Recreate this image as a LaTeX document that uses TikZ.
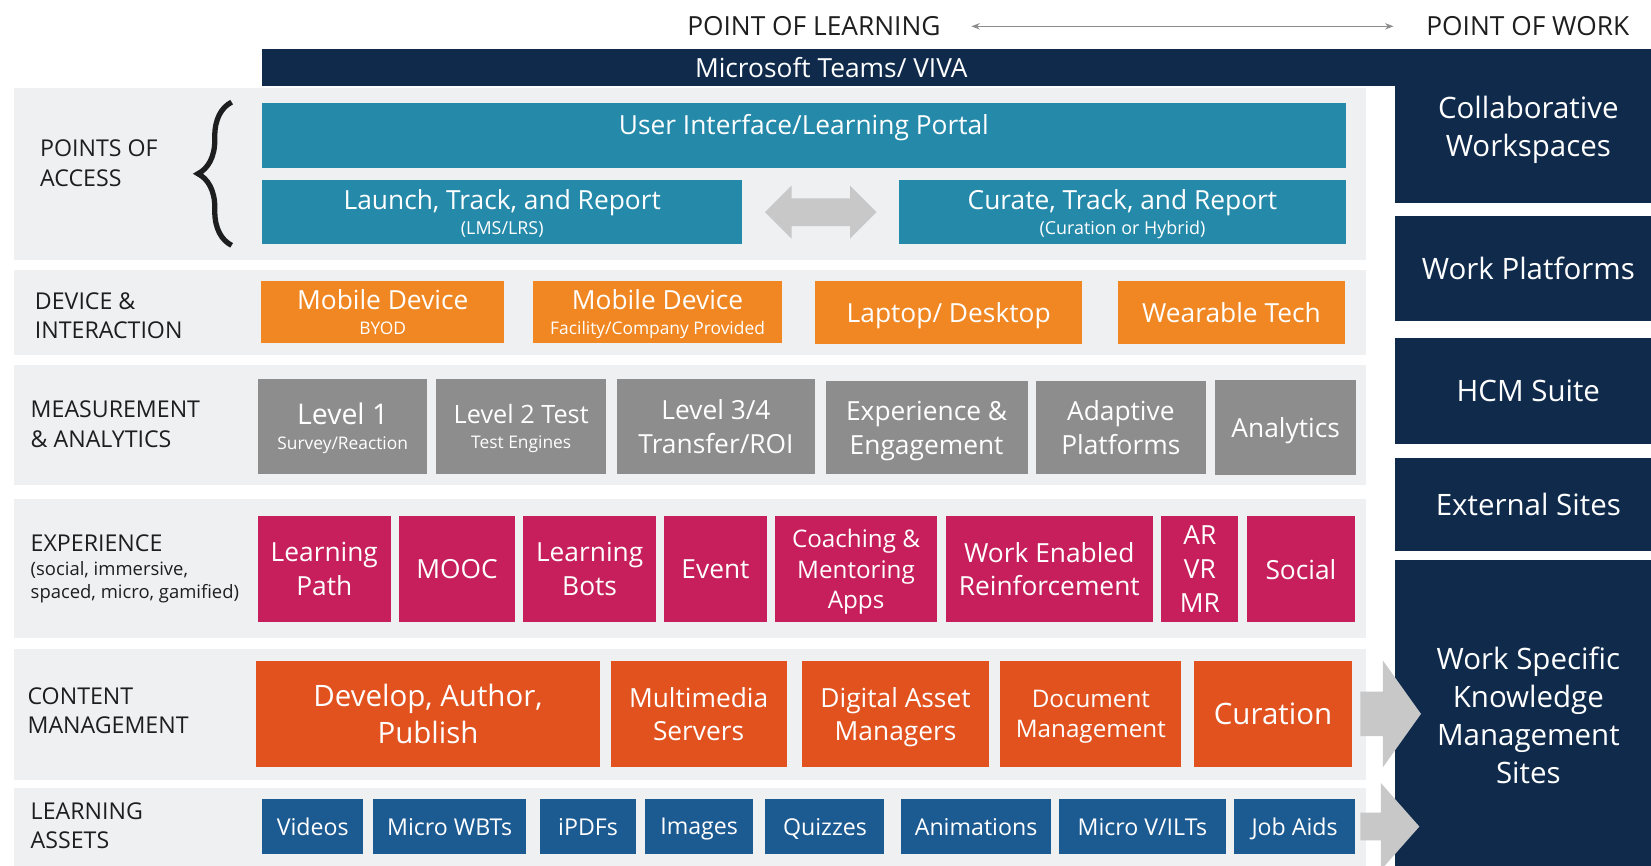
\documentclass[tikz,border=0pt]{standalone}
\usepackage{xcolor}
\usepackage{fontspec}
\setmainfont{Open Sans}
\usepackage{tikz}
\usetikzlibrary{calc}
\usetikzlibrary{shapes.arrows}
\usetikzlibrary{arrows.meta}
\usetikzlibrary{decorations.pathreplacing}

\definecolor{navy}{HTML}{0F2A4B}
\definecolor{accteal}{HTML}{2589AA}
\definecolor{devorange}{HTML}{F08722}
\definecolor{measgray}{HTML}{8D8D8D}
\definecolor{expmagenta}{HTML}{C71F5B}
\definecolor{conorange}{HTML}{E1521F}
\definecolor{assetblue}{HTML}{1C5A92}
\definecolor{panelgray}{HTML}{EEF0F2}
\definecolor{arrowgray}{HTML}{C8C8C8}
\definecolor{labeltext}{HTML}{1E1E1E}
\definecolor{linegray}{HTML}{8C8C8C}

\newcommand{\undertekst}[1]{{\fontsize{16.5}{20}\selectfont #1}}

\begin{document}
\begin{tikzpicture}[x=1pt, y=-1pt,
  omr/.style n args={4}{at={($(#1,#2)!0.5!(#3,#4)$)}, minimum width={(#3-#1)*1pt}, minimum height={(#4-#2)*1pt}},
  blk/.style={rectangle, inner sep=0pt, outer sep=0pt, align=center, text depth=0pt, text=white, font=\fontsize{25}{32}\selectfont},
  access/.style={blk, fill=accteal},
  device/.style={blk, fill=devorange},
  measure/.style={blk, fill=measgray},
  exper/.style={blk, fill=expmagenta},
  content/.style={blk, fill=conorange},
  asset/.style={blk, fill=assetblue, font=\fontsize{22}{28}\selectfont},
  work/.style={blk, fill=navy, font=\fontsize{28}{36}\selectfont},
  rowlabel/.style={anchor=west, align=left, inner sep=0pt, text=labeltext, font=\fontsize{22}{28}\selectfont},
  toptxt/.style={inner sep=0pt, text=labeltext, font=\fontsize{25}{30}\selectfont},
  panel/.style={fill=panelgray},
  blockarrow/.style={fill=arrowgray, inner sep=0pt, outer sep=0pt}]
	%Bakgrunn
	\useasboundingbox[fill=white] (0,0) rectangle (1568,822);
	\fill[panel] (13,84) rectangle (1297,247);
	\fill[panel] (13,256) rectangle (1297,337);
	\fill[panel] (13,347) rectangle (1297,461);
	\fill[panel] (13,474) rectangle (1297,606);
	\fill[panel] (13,616) rectangle (1297,741);
	\fill[panel] (13,748) rectangle (1297,822);

	%Overskrift
	\node[toptxt] (pol) at (773,25) {POINT OF LEARNING};
	\node[toptxt] (pow) at (1451,25) {POINT OF WORK};
	\draw[linegray, line width=1.5pt, {Stealth[length=8pt,width=6pt]}-{Stealth[length=8pt,width=6pt]}, shorten <=29pt, shorten >=31pt] (pol) -- (pow);

	%Arbeid
	\node[work, font=\fontsize{25}{32}\selectfont, omr={249}{47}{1330}{82}] (teams) {Microsoft Teams/ VIVA};
	\node[work, omr={1325}{47}{1578}{193}] (collab) {Collaborative\\Workspaces};
	\node[work, omr={1325}{205}{1578}{305}] (workpl) {Work Platforms};
	\node[work, omr={1325}{321}{1578}{422}] (hcm) {HCM Suite};
	\node[work, omr={1325}{435}{1578}{523}] (ext) {External Sites};
	\node[work, omr={1325}{532}{1578}{826}] (wsk) {Work Specific\\Knowledge\\Management\\Sites};

	%Radene
	\node[rowlabel] (l1) at (38,155) {POINTS OF\\ACCESS};
	\node[rowlabel] (l2) at (33,300) {DEVICE \&\\INTERACTION};
	\node[rowlabel] (l3) at (29,403) {MEASUREMENT\\\& ANALYTICS};
	\node[rowlabel, font=\fontsize{17.5}{21.5}\selectfont] (l4) at (29,540) {{\fontsize{22}{24}\selectfont EXPERIENCE}\\[2pt](social, immersive,\\spaced, micro, gamified)};
	\node[rowlabel] (l5) at (26,675) {CONTENT\\MANAGEMENT};
	\node[rowlabel] (l6) at (29,784) {LEARNING\\ASSETS};
	\draw[labeltext, line width=5pt, decorate, decoration={brace, amplitude=32pt}] (220,233) -- (220,97);

	%Tilgang
	\node[access, text height=19pt, text depth=21pt, omr={249}{98}{1278}{160}] (ui) {User Interface/Learning Portal};
	\node[access, omr={249}{171}{705}{232}] (launch) {Launch, Track, and Report\\[-8pt]{\fontsize{17}{20}\selectfont (LMS/LRS)}};
	\node[access, omr={854}{171}{1278}{232}] (curate) {Curate, Track, and Report\\[-8pt]{\fontsize{17}{20}\selectfont (Curation or Hybrid)}};
	\node[blockarrow, double arrow, minimum height=106pt, minimum width=50pt, inner sep=13pt, double arrow head extend=12pt] (swap) at ($(launch.east)!0.5!(curate.west)$) {};

	%Enheter
	\node[device, omr={248}{267}{479}{326}] (byod) {Mobile Device\\[-8pt]\undertekst{BYOD}};
	\node[device, omr={506}{267}{743}{326}] (facility) {Mobile Device\\[-8pt]\undertekst{Facility/Company Provided}};
	\node[device, omr={774}{267}{1028}{327}] (laptop) {Laptop/ Desktop};
	\node[device, omr={1062}{267}{1277}{327}] (wear) {Wearable Tech};

	%Maaling
	\node[measure, font=\fontsize{27}{34}\selectfont, omr={245}{360}{406}{450}] (lvl1) {Level 1\\[-10pt]\undertekst{Survey/Reaction}};
	\node[measure, font=\fontsize{24}{31}\selectfont, omr={414}{360}{576}{450}] (lvl2) {Level 2 Test\\[-7pt]\undertekst{Test Engines}};
	\node[measure, omr={586}{360}{774}{450}] (lvl34) {Level 3/4\\Transfer/ROI};
	\node[measure, omr={784}{362}{976}{450}] (expeng) {Experience \&\\Engagement};
	\node[measure, omr={984}{362}{1145}{450}] (adapt) {Adaptive\\Platforms};
	\node[measure, omr={1154}{361}{1288}{451}] (anlt) {Analytics};

	%Opplevelse
	\node[exper, omr={245}{490}{371}{591}] (path) {Learning\\Path};
	\node[exper, omr={379}{490}{489}{591}] (mooc) {MOOC};
	\node[exper, omr={497}{490}{623}{591}] (bots) {Learning\\Bots};
	\node[exper, omr={631}{490}{728}{591}] (event) {Event};
	\node[exper, font=\fontsize{23}{29}\selectfont, omr={736}{490}{890}{591}] (coach) {Coaching \&\\Mentoring\\Apps};
	\node[exper, omr={898}{490}{1095}{591}] (workenb) {Work Enabled\\Reinforcement};
	\node[exper, omr={1103}{490}{1176}{591}] (arvr) {AR\\VR\\MR};
	\node[exper, omr={1184}{490}{1287}{591}] (social) {Social};

	%Innhold
	\node[content, font=\fontsize{28}{35}\selectfont, omr={243}{628}{570}{728}] (dev) {Develop, Author,\\Publish};
	\node[content, omr={580}{628}{747}{728}] (mm) {Multimedia\\Servers};
	\node[content, omr={762}{628}{939}{728}] (dam) {Digital Asset\\Managers};
	\node[content, font=\fontsize{23}{29}\selectfont, omr={950}{628}{1122}{728}] (doc) {Document\\Management};
	\node[content, font=\fontsize{28}{35}\selectfont, omr={1134}{628}{1284}{728}] (cur) {Curation};

	%Ressurser
	\node[asset, omr={249}{759}{345}{811}] (videos) {Videos};
	\node[asset, omr={354}{759}{500}{811}] (wbt) {Micro WBTs};
	\node[asset, omr={513}{759}{604}{811}] (ipdf) {iPDFs};
	\node[asset, omr={613}{759}{715}{811}] (img) {Images};
	\node[asset, omr={727}{759}{840}{811}] (quiz) {Quizzes};
	\node[asset, omr={856}{759}{998}{811}] (anim) {Animations};
	\node[asset, omr={1006}{759}{1164}{811}] (vilt) {Micro V/ILTs};
	\node[asset, omr={1172}{759}{1287}{811}] (jobaid) {Job Aids};

	%Piler mot arbeid
	\node[blockarrow, single arrow, anchor=tail, minimum height=56pt, minimum width=101pt, inner sep=21pt, single arrow head extend=29.5pt, single arrow tip angle=109] (pil1) at ($(cur.east)+(8,0)$) {};
	\node[blockarrow, single arrow, anchor=tail, minimum height=56pt, minimum width=82pt, inner sep=13pt, single arrow head extend=28pt, single arrow tip angle=97] (pil2) at ($(jobaid.east)+(5,0)$) {};
\end{tikzpicture}
\end{document}
